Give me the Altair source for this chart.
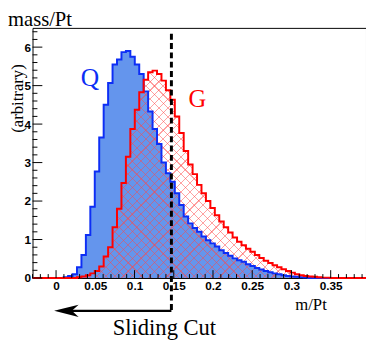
import altair as alt
import pandas as pd

# ---- data ----
X_MIN, X_MAX = -0.03, 0.395
N_BINS = 75
Y_MAX = 6.5
CUT = 0.147

q_counts = [0, 0, 0, 0, 0, 0, 0,
            0.02, 0.05, 0.1, 0.28, 0.6, 1.12, 1.85, 2.77, 3.65, 4.5, 5.07, 5.55, 5.68,
            5.87, 5.9, 5.75, 5.55, 5.3, 4.85, 4.33, 3.87, 3.48, 3.0, 2.72, 2.5, 2.2,
            1.9, 1.6, 1.42, 1.3, 1.2, 1.08, 0.98, 0.9, 0.82, 0.72, 0.65, 0.58, 0.51,
            0.46, 0.42, 0.36, 0.31, 0.26, 0.22, 0.18, 0.15, 0.12, 0.1, 0.07, 0.05,
            0.04, 0.03, 0.02, 0.01,
            0, 0, 0, 0, 0, 0, 0, 0, 0, 0, 0, 0, 0]
g_counts = [0, 0, 0, 0, 0, 0, 0, 0, 0, 0,
            0.02, 0.04, 0.07, 0.12, 0.18, 0.3, 0.56, 0.8, 1.32, 1.8, 2.47, 3.15, 3.87,
            4.37, 4.83, 5.15, 5.35, 5.39, 5.3, 5.13, 4.88, 4.63, 4.2, 3.77, 3.3, 2.95,
            2.7, 2.42, 2.2, 2.0, 1.82, 1.63, 1.47, 1.32, 1.18, 1.05, 0.94, 0.85, 0.76,
            0.68, 0.6, 0.52, 0.45, 0.39, 0.33, 0.28, 0.23, 0.18, 0.14, 0.1, 0.07, 0.05,
            0.04, 0.03, 0.02, 0.01, 0.01,
            0, 0, 0, 0, 0, 0, 0, 0]

x_major = [0, 0.05, 0.1, 0.15, 0.2, 0.25, 0.3, 0.35]
x_minor = [-0.03, -0.02, -0.01, 0.01, 0.02, 0.03, 0.04, 0.06, 0.07, 0.08, 0.09,
           0.11, 0.12, 0.13, 0.14, 0.16, 0.17, 0.18, 0.19, 0.21, 0.22, 0.23, 0.24,
           0.26, 0.27, 0.28, 0.29, 0.31, 0.32, 0.33, 0.34, 0.36, 0.37, 0.38, 0.39]
y_major = [0, 1, 2, 3, 4, 5, 6]
y_minor = [0.2, 0.4, 0.6, 0.8, 1.2, 1.4, 1.6, 1.8, 2.2, 2.4, 2.6, 2.8, 3.2, 3.4,
           3.6, 3.8, 4.2, 4.4, 4.6, 4.8, 5.2, 5.4, 5.6, 5.8, 6.2, 6.4]

# ---- layout / style ----
W, H = 340, 255
BLUE_FILL = "#6495ed"
BLUE_LINE = "#0d2ef5"
RED = "#ff0000"
SERIF = "Liberation Serif"
SANS = "Liberation Sans"

bw = (X_MAX - X_MIN) / N_BINS
edges = [X_MIN + i * bw for i in range(N_BINS + 1)]
hist = pd.DataFrame({"x": edges,
                     "Q": q_counts + [q_counts[-1]],
                     "G": g_counts + [g_counts[-1]]})

XS = alt.Scale(domain=[X_MIN, X_MAX], nice=False, zero=False)
YS = alt.Scale(domain=[0, Y_MAX], nice=False)
X_AX = alt.Axis(values=x_major, format="~g", title=None, ticks=False, domain=False,
                grid=False, labelFont=SANS, labelFontWeight="bold", labelFontSize=12,
                labelColor="black", labelPadding=3, labelFlush=False)
Y_AX = alt.Axis(values=y_major, format="d", title=None, ticks=False, domain=False,
                grid=False, labelFont=SANS, labelFontWeight="bold", labelFontSize=12,
                labelColor="black", labelPadding=2)

base = alt.Chart(hist)
xenc = alt.X("x:Q", scale=XS, axis=X_AX)

q_area = base.mark_area(interpolate="step-after", color=BLUE_FILL).encode(
    x=xenc, y=alt.Y("Q:Q", scale=YS, axis=Y_AX))

# cross-hatch for G made of two striped gradients
g_top = H * max(g_counts) / Y_MAX
r = g_top / W
k = (1 + r) / (1 + r * r)
L = W + g_top
spacing, thick = 9.0, 1.2
clear, ink = "rgba(255,70,70,0)", "rgba(255,70,70,0.5)"
stops = [alt.GradientStop(color=clear, offset=0)]
pos = spacing / 2
while pos + thick < L:
    a, b = pos / L, (pos + thick) / L
    stops += [alt.GradientStop(color=clear, offset=a), alt.GradientStop(color=ink, offset=a),
              alt.GradientStop(color=ink, offset=b), alt.GradientStop(color=clear, offset=b)]
    pos += spacing
stops.append(alt.GradientStop(color=clear, offset=1))

g_hatch1 = base.mark_area(interpolate="step-after", color=alt.Gradient(
    gradient="linear", stops=stops, x1=0, y1=0, x2=k, y2=k * r)).encode(
    x=xenc, y=alt.Y("G:Q", scale=YS, axis=Y_AX))
g_hatch2 = base.mark_area(interpolate="step-after", color=alt.Gradient(
    gradient="linear", stops=stops, x1=0, y1=1, x2=k, y2=1 - k * r)).encode(
    x=xenc, y=alt.Y("G:Q", scale=YS, axis=Y_AX))

q_line = base.mark_line(interpolate="step-after", color=BLUE_LINE, strokeWidth=2).encode(
    x=xenc, y=alt.Y("Q:Q", scale=YS, axis=Y_AX))
g_line = base.mark_line(interpolate="step-after", color=RED, strokeWidth=2).encode(
    x=xenc, y=alt.Y("G:Q", scale=YS, axis=Y_AX))

# inward ticks
def yticks(vals, length):
    return alt.Chart(pd.DataFrame({"v": vals})).mark_rule(color="black", strokeWidth=1).encode(
        y=alt.Y("v:Q", scale=YS, axis=Y_AX), x=alt.value(0), x2=alt.value(length))

def xticks(vals, length):
    return alt.Chart(pd.DataFrame({"v": vals})).mark_rule(color="black", strokeWidth=1).encode(
        x=alt.X("v:Q", scale=XS, axis=X_AX), y=alt.value(H), y2=alt.value(H - length))

# cut line and arrow
one = pd.DataFrame({"a": [0]})
cut_line = alt.Chart(one).mark_rule(color="black", strokeWidth=3, strokeDash=[6, 3.5],
                                    clip=False).encode(
    x=alt.datum(CUT, scale=XS, axis=X_AX), y=alt.value(6), y2=alt.value(288))
arrow_line = alt.Chart(one).mark_rule(color="black", strokeWidth=2.5, clip=False).encode(
    x=alt.datum(CUT, scale=XS, axis=X_AX), x2=alt.value(30), y=alt.value(288.5))
arrow_head = alt.Chart(one).mark_point(
    shape="M-1,0 L1,-0.5 L0.45,0 L1,0.5 Z", filled=True, color="black", opacity=1,
    size=625, clip=False).encode(x=alt.value(34.5), y=alt.value(288.5))

def label(txt, x, y, size, color="black", align="center", angle=0, font=SERIF):
    return alt.Chart(pd.DataFrame({"t": [txt]})).mark_text(
        font=font, fontSize=size, color=color, align=align, baseline="alphabetic",
        angle=angle, clip=False).encode(text="t:N", x=alt.value(x), y=alt.value(y))

texts = [
    label("mass/Pt", -25, -2, 21, align="left"),
    label("(arbitrary)", -9.5, 72, 17, angle=270),
    label("Q", 58.5, 59, 26, color=BLUE_LINE),
    label("G", 168, 81, 25, color=RED),
    label("m/Pt", 300, 288, 17, align="right"),
    label("Sliding Cut", 134.5, 313, 23),
]

chart = alt.layer(
    q_area, g_hatch1, g_hatch2, q_line, g_line,
    yticks(y_major, 10), yticks(y_minor, 5), xticks(x_major, 8), xticks(x_minor, 4),
    cut_line, arrow_line, arrow_head, *texts
).properties(
    width=W, height=H,
    padding={"left": 25, "top": 17, "right": 0, "bottom": 64},
    autosize=alt.AutoSizeParams(type="none"),
).configure_view(stroke="black", strokeWidth=1)

chart.save("out.html", embed_options={"renderer": "svg", "actions": False})
